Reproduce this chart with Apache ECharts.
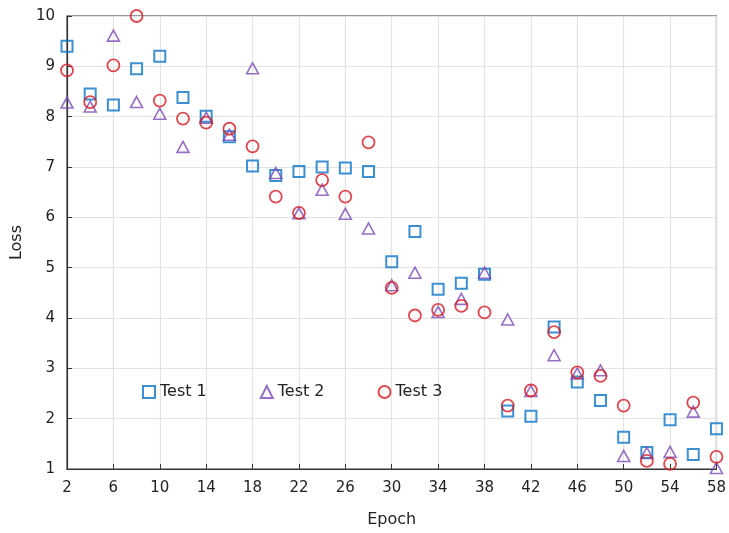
<!DOCTYPE html>
<html>
<head>
<meta charset="utf-8">
<script src="https://cdn.jsdelivr.net/npm/echarts@6/dist/echarts.min.js"></script>
<style>
html, body { margin: 0; padding: 0; background: #fff; }
#main { width: 729px; height: 533px; }
</style>
</head>
<body>
<div id="main"></div>
<script>
var epochs = [2, 4, 6, 8, 10, 12, 14, 16, 18, 20, 22, 24, 26, 28, 30,
  32, 34, 36, 38, 40, 42, 44, 46, 48, 50, 52, 54, 56, 58]
var test1 = [9.4, 8.45, 8.23, 8.95, 9.2, 8.38, 8.01, 7.6, 7.02, 6.83, 6.91, 7.0, 6.98, 6.91, 5.12,
  5.72, 4.57, 4.69, 4.87, 2.15, 2.05, 3.82, 2.73, 2.36, 1.63, 1.33, 1.98, 1.29, 1.8]
var test2 = [8.28, 8.2, 9.61, 8.29, 8.06, 7.4, 7.98, 7.64, 8.96, 6.88, 6.08, 6.55, 6.07, 5.78, 4.65,
  4.9, 4.12, 4.38, 4.9, 3.97, 2.55, 3.26, 2.9, 2.96, 1.26, 1.32, 1.34, 2.14, 1.02]
var test3 = [8.92, 8.29, 9.02, 10.0, 8.32, 7.96, 7.88, 7.76, 7.41, 6.41, 6.09, 6.74, 6.41, 7.49, 4.6,
  4.05, 4.16, 4.24, 4.11, 2.26, 2.56, 3.72, 2.92, 2.85, 2.26, 1.16, 1.1, 2.32, 1.24]
var xTicks = [2, 6, 10, 14, 18, 22, 26, 30, 34, 38, 42, 46, 50, 54, 58]

var chart = echarts.init(document.getElementById('main'))

function pairs (ys) {
  return epochs.map(function (x, i) { return [x, ys[i]] })
}

var font = 'DejaVu Sans'
var axisColor = '#333'

chart.setOption({
  backgroundColor: '#fff',
  animation: false,
  textStyle: { fontFamily: font },
  grid: {
    left: 67, right: 10, top: 16, bottom: 59,
    show: true, borderColor: axisColor, borderWidth: 1.2
  },
  legend: {
    left: 142, top: 384, padding: 0,
    itemWidth: 12, itemHeight: 12, itemGap: 53,
    textStyle: { fontFamily: font, fontSize: 16, color: '#222' },
    data: ['Test 1', 'Test 2', 'Test 3']
  },
  xAxis: {
    type: 'value', min: 2, max: 58,
    name: 'Epoch', nameLocation: 'middle', nameGap: 43,
    nameTextStyle: { fontFamily: font, fontSize: 16, color: '#222' },
    axisLine: { lineStyle: { color: axisColor, width: 1.2 } },
    axisTick: { inside: true, length: 5, customValues: xTicks, lineStyle: { color: axisColor } },
    axisLabel: { customValues: xTicks, margin: 12, fontSize: 15, color: '#222', fontFamily: font },
    splitLine: { show: true, lineStyle: { color: '#e3e3e3', width: 1.2 } }
  },
  yAxis: {
    type: 'value', min: 1, max: 10, interval: 1,
    name: 'Loss', nameLocation: 'middle', nameGap: 40,
    nameTextStyle: { fontFamily: font, fontSize: 16, color: '#222' },
    axisLine: { show: true, lineStyle: { color: axisColor, width: 1.2 } },
    axisTick: { show: true, inside: true, length: 5, lineStyle: { color: axisColor } },
    axisLabel: { margin: 12, fontSize: 15, color: '#222', fontFamily: font },
    splitLine: { show: true, lineStyle: { color: '#e3e3e3', width: 1.2 } }
  },
  series: [{
    name: 'Test 1',
    type: 'scatter',
    symbol: 'rect',
    symbolSize: 11,
    itemStyle: { color: 'rgba(0,0,0,0)', borderColor: '#0b74c6', borderWidth: 2 },
    data: pairs(test1)
  }, {
    name: 'Test 2',
    type: 'scatter',
    symbol: 'triangle',
    symbolSize: [12, 11],
    itemStyle: { color: 'rgba(0,0,0,0)', borderColor: '#7d4cb6', borderWidth: 1.6 },
    data: pairs(test2)
  }, {
    name: 'Test 3',
    type: 'scatter',
    symbol: 'circle',
    symbolSize: 12,
    itemStyle: { color: 'rgba(0,0,0,0)', borderColor: '#d41c24', borderWidth: 1.8 },
    data: pairs(test3)
  }]
})
</script>
</body>
</html>
